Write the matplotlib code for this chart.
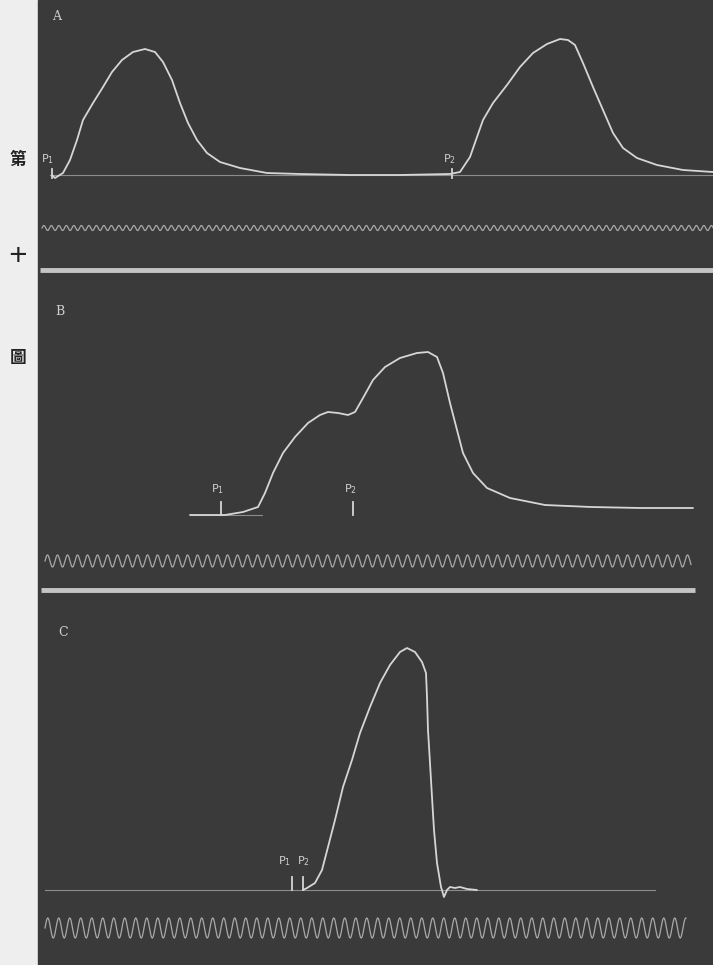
import numpy as np
import matplotlib
matplotlib.use("Agg")
import matplotlib.pyplot as plt

# ---------------- data ----------------
# Panel A : two separate contractions (stimuli P1, P2)
a_x = [52, 55, 63, 70, 77, 83, 93, 103, 112, 122, 133, 145, 155, 163, 172, 180,
       188, 197, 207, 220, 240, 267, 300, 350, 400, 450, 460, 470, 477, 483, 493,
       507, 520, 533, 547, 560, 568, 575, 583, 593, 603, 613, 623, 637, 657, 683, 713]
a_h = [0, -3, 2, 15, 35, 55, 72, 88, 103, 115, 123, 126, 123, 113, 95, 72,
       52, 35, 22, 13, 7, 2, 1, 0, 0, 1, 3, 18, 38, 55, 72,
       90, 108, 122, 131, 136, 135, 130, 112, 88, 65, 42, 27, 17, 10, 5, 3]
a_stim_x = [52, 452]
a_stim_lbl = ["P$_1$", "P$_2$"]

# Panel B : superposition (P2 during relaxation of first twitch)
b_x = [190, 225, 243, 258, 265, 273, 283, 295, 308, 320, 328, 338, 348, 355, 363,
       373, 385, 400, 417, 428, 437, 443, 450, 457, 463, 473, 487, 510, 545, 591,
       640, 693]
b_h = [0, 0, 3, 8, 22, 42, 62, 78, 92, 100, 103, 102, 100, 103, 117,
       135, 148, 157, 162, 163, 158, 142, 112, 85, 62, 42, 27, 17, 10, 8,
       7, 7]
b_stim_x = [221, 353]
b_stim_lbl = ["P$_1$", "P$_2$"]

# Panel C : P1 and P2 almost simultaneous
c_x = [303, 307, 315, 322, 328, 335, 343, 352, 360, 370, 380, 390, 400, 407, 415,
       422, 426, 427, 428, 430, 432, 434, 437, 441, 444, 447, 450, 455, 460, 467, 477]
c_h = [0, 2, 7, 20, 43, 70, 103, 130, 157, 183, 207, 225, 238, 242, 238,
       228, 217, 193, 160, 127, 93, 60, 27, 3, -7, 0, 3, 2, 3, 1, 0]
c_stim_x = [292, 303]
c_stim_lbl = ["P$_1$", "P$_2$"]

# tuning-fork time traces: (x start, x end, period, amplitude)
time_traces = {"A": (42, 713, 7.5, 2.5), "B": (45, 691, 10.0, 6.0), "C": (45, 686, 11.0, 10.0)}
panel_letters = ["A", "B", "C"]
side_chars = ["第", "十", "圖"]

# ---------------- style ----------------
W, H = 713, 965
BG = "#3a3a3a"
PAPER = "#eeeeee"
LINE = "#d6d6d6"
FAINT = "#8c8c8c"
TRACE = "#a9a9a9"

fig = plt.figure(figsize=(W / 100, H / 100), dpi=100, facecolor=PAPER)

# background / decoration axes in pixel units
bg = fig.add_axes([0, 0, 1, 1])
bg.set_xlim(0, W)
bg.set_ylim(H, 0)
bg.axis("off")
bg.add_patch(plt.Rectangle((38, 0), W - 38, H, color=BG, zorder=0))
bg.hlines(270, 40, 713, color="#c4c4c4", lw=3.5, zorder=1)
bg.hlines(590, 41, 695, color="#c4c4c4", lw=3.5, zorder=1)
for ch, yy in zip(side_chars, [160, 256, 358]):
    bg.text(18, yy, ch, ha="center", va="center", fontsize=12, color="#222222",
            family=["Noto Sans CJK TC", "DejaVu Sans"], fontweight="bold")


def panel(top, bottom, base, xs, hs, stim_x, stim_lbl, tick_h, lbl_h, letter, trace,
          baseline_span, lbl_dx, letter_pos):
    ax = fig.add_axes([38 / W, 1 - bottom / H, 1 - 38 / W, (bottom - top) / H])
    ax.set_xlim(38, W)
    ax.set_ylim(base - bottom, base - top)
    ax.axis("off")
    ax.patch.set_alpha(0)
    ax.plot(baseline_span, [0, 0], color=FAINT, lw=0.8)
    ax.plot(xs, hs, color=LINE, lw=1.3, solid_joinstyle="round", solid_capstyle="round")
    for sx, sl, dx in zip(stim_x, stim_lbl, lbl_dx):
        ax.plot([sx, sx], tick_h, color=LINE, lw=1.3)
        ax.text(sx + dx, lbl_h, sl, color="#cfcfcf", fontsize=8, ha="center", va="bottom")
    x0, x1, per, amp = trace
    tx = np.linspace(x0, x1, 3000)
    ty = base_trace[letter] + amp * np.sin(2 * np.pi * (tx - x0) / per)
    ax.plot(tx, ty, color=TRACE, lw=0.9)
    ax.text(letter_pos[0], letter_pos[1], letter, color="#cfcfcf", fontsize=9,
            family="DejaVu Serif", ha="center", va="center")
    return ax


base_trace = {"A": -53, "B": -46, "C": -38}

panel(0, 267, 175, a_x, a_h, a_stim_x, a_stim_lbl, [-3, 6], 9, "A",
      time_traces["A"], [50, 713], [-4, -3], (57, 158))
panel(275, 588, 515, b_x, b_h, b_stim_x, b_stim_lbl, [0, 13], 19, "B",
      time_traces["B"], [190, 262], [-3, -3], (60, 203))
panel(594, 965, 890, c_x, c_h, c_stim_x, c_stim_lbl, [0, 13], 22, "C",
      time_traces["C"], [45, 655], [-7, 0], (63, 257))

fig.savefig("out.png", dpi=100, facecolor=PAPER)
